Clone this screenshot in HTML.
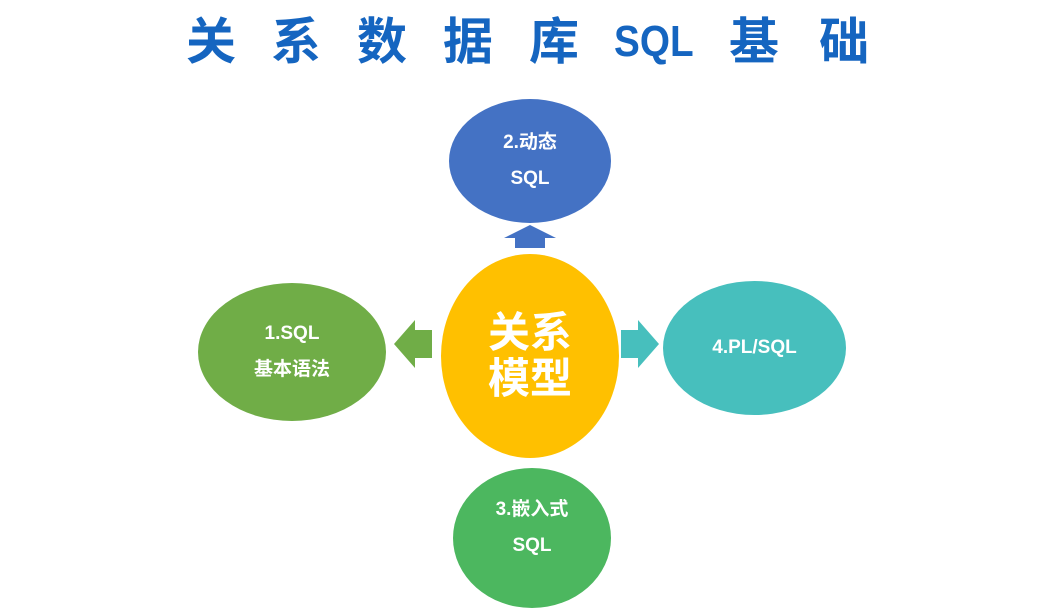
<!DOCTYPE html>
<html><head><meta charset="utf-8"><style>
html,body{margin:0;padding:0;background:#fff;}
body{width:1064px;height:599px;position:relative;overflow:hidden;font-family:"Liberation Sans","Noto Sans CJK SC",sans-serif;}
.t{position:absolute;top:12px;font-size:50px;font-weight:bold;color:#1565c0;line-height:60px;font-family:"Liberation Sans","Noto Sans CJK SC",sans-serif;}
.c{position:absolute;border-radius:50%;display:flex;align-items:center;justify-content:center;text-align:center;color:#fff;font-weight:bold;font-size:19px;line-height:36px;}
</style></head><body>
<span class="t" style="left:186px">关</span>
<span class="t" style="left:271px">系</span>
<span class="t" style="left:357px">数</span>
<span class="t" style="left:443px">据</span>
<span class="t" style="left:529px">库</span>
<span class="t" style="left:614px;font-size:44px;transform:scaleX(0.88);transform-origin:left">SQL</span>
<span class="t" style="left:729px">基</span>
<span class="t" style="left:819px">础</span>

<svg width="1064" height="599" style="position:absolute;left:0;top:0">
<polygon points="515,248 545,248 545,238 556,238 530,225 504,238 515,238" fill="#4472c4"/>
<polygon points="515,425 545,425 545,440 555,440 530,457 505,440 515,440" fill="#4fb258"/>
<polygon points="432,330 432,358 415,358 415,368 394,344 415,320 415,330" fill="#70ad47"/>
<polygon points="621,330 621,358 638,358 638,368 659,344 638,320 638,330" fill="#47bfbd"/>
</svg>

<div class="c" style="left:449px;top:99px;width:162px;height:124px;background:#4472c4">2.动态<br>SQL</div>
<div class="c" style="left:198px;top:283px;width:188px;height:138px;background:#70ad47">1.SQL<br>基本语法</div>
<div class="c" style="left:663px;top:281px;width:183px;height:134px;background:#47bfbd">4.PL/SQL</div>
<div class="c" style="left:453px;top:468px;width:158px;height:140px;background:#4cb75f;align-items:flex-start;padding-top:0"><div style="margin-top:24px">3.嵌入式<br>SQL</div></div>
<div class="c" style="left:441px;top:254px;width:178px;height:204px;background:#ffc000;font-size:42px;line-height:46px">关系<br>模型</div>
</body></html>
